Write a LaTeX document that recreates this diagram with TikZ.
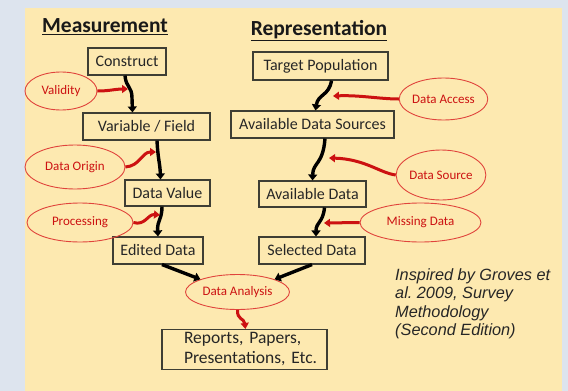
\documentclass[tikz,border=0pt]{standalone}
\usepackage{fontspec}
\setmainfont{Carlito}
\newfontfamily\arialfont{Liberation Sans}
\usetikzlibrary{arrows.meta,shapes.geometric}
\definecolor{bgblue}{HTML}{DDE4EE}
\definecolor{panel}{HTML}{FDE9B0}
\definecolor{ellred}{HTML}{E0443C}
\definecolor{arrred}{HTML}{CC1111}
\definecolor{boxline}{HTML}{3E3E34}
\frenchspacing
\begin{document}
\begin{tikzpicture}[x=1pt,y=-1pt,
 box/.style={draw=boxline,line width=1.1pt,fill=panel,inner sep=0pt,text=black!85,font=\fontsize{16}{18}\selectfont},
 oval/.style={ellipse,draw=ellred,line width=0.9pt,inner sep=0pt,text=arrred,font=\fontsize{13}{14}\selectfont},
 blk/.style={line width=3.4pt,-{Triangle[length=6pt,width=9pt]}},
 redarr/.style={arrred,line width=3pt,-{Triangle[length=6pt,width=8pt]}},
 ttl/.style={font=\fontsize{21.5}{24}\selectfont\bfseries,text=black!90}]
\useasboundingbox (0,0) rectangle (568,391);
\fill[bgblue] (0,0) rectangle (568,391);
\fill[panel] (25,8) rectangle (562,391);

\node[ttl] (tm) at (105,27) {\underline{Measurement}};
\node[ttl] (tr) at (319,31) {\underline{Representation}};

\node[box,minimum width=78pt,minimum height=27pt] (cons) at (127,61.5) {Construct};
\node[box,minimum width=127pt,minimum height=27pt] (var) at (146.5,126.5) {Variable / Field};
\node[box,minimum width=85pt,minimum height=26pt] (dval) at (167.5,193) {Data Value};
\node[box,minimum width=90pt,minimum height=27pt] (edit) at (158,250.5) {Edited Data};
\node[box,minimum width=135pt,minimum height=28pt] (tpop) at (320.5,66) {Target Population};
\node[box,minimum width=163pt,minimum height=27pt] (ads) at (312.5,124.5) {Available Data Sources};
\node[box,minimum width=107pt,minimum height=26pt] (avd) at (312.5,194) {Available Data};
\node[box,minimum width=106pt,minimum height=27pt] (sel) at (312,250.5) {Selected Data};
\node[box,minimum width=165pt,minimum height=40pt,text width=121pt,align=left,font=\fontsize{17.5}{20}\selectfont] (rep) at (244.5,349.5) {\mbox{Reports, Papers,}\\\mbox{Presentations, Etc.}};

\node[oval,minimum width=72pt,minimum height=38pt] (valid) at (61,91) {Validity};
\node[oval,minimum width=100pt,minimum height=44pt] (orig) at (75,167) {Data Origin};
\node[oval,minimum width=106pt,minimum height=39pt] (proc) at (80,222.5) {Processing};
\node[oval,minimum width=85pt,minimum height=42pt] (acc) at (443.5,99) {Data Access};
\node[oval,minimum width=80pt,minimum height=50pt] (src) at (441,175) {Data Source};
\node[oval,minimum width=121pt,minimum height=39pt] (miss) at (420.5,222.5) {Missing Data};
\node[oval,minimum width=104pt,minimum height=35pt] (ana) at (237.5,292) {Data Analysis};

\node[anchor=north west,align=left,font=\arialfont\itshape\fontsize{16.3}{18.6}\selectfont,text=black!85,inner sep=0pt] (insp) at (395,268) {Inspired by Groves et\\al. 2009, Survey\\Methodology\\(Second Edition)};

\coordinate (c1) at (128,89);
\coordinate (c2) at (156,152);
\coordinate (c3) at (160,215);
\coordinate (c4) at (333,96);
\coordinate (c5) at (329,158);
\coordinate (c6) at (324,223);

% black connectors
\draw[blk] ([xshift=-2pt]cons.south) .. controls (126,88) and (132,86) .. (132,98) -- ([xshift=-14pt]var.north);
\draw[blk] ([xshift=10.5pt]var.south) .. controls (158,160) and (160,163) .. ([xshift=-7pt]dval.north);
\draw[blk] ([xshift=-5.5pt]dval.south) .. controls (162,220) and (157,220) .. ([xshift=0pt]edit.north);
\draw[blk] ([xshift=11pt]tpop.south) .. controls (329,96) and (318,94) .. ([xshift=3pt]ads.north);
\draw[blk] ([xshift=12.5pt]ads.south) .. controls (323,165) and (313,162) .. ([xshift=0pt]avd.north);
\draw[blk] ([xshift=12pt]avd.south) .. controls (323,223) and (316,222) .. ([xshift=4pt]sel.north);
\draw[blk] ([xshift=4pt]edit.south) -- (ana.north west);
\draw[blk] (sel.south) -- (ana.north east);

% red connectors
\draw[redarr] (valid.east) .. controls (110,91) and (115,89) .. (c1);
\draw[redarr] (orig.east) .. controls (140,166) and (142,152) .. (c2);
\draw[redarr] (proc.east) .. controls (145,226) and (148,214) .. (c3);
\draw[redarr] (acc.west) .. controls (380,99) and (360,95) .. (c4);
\draw[redarr] (src.west) .. controls (380,173) and (365,159) .. (c5);
\draw[redarr] (miss.west) -- (c6);
\draw[redarr] (ana.south) .. controls (237,320) and (244,318) .. ([xshift=1pt]rep.north);
\end{tikzpicture}
\end{document}
